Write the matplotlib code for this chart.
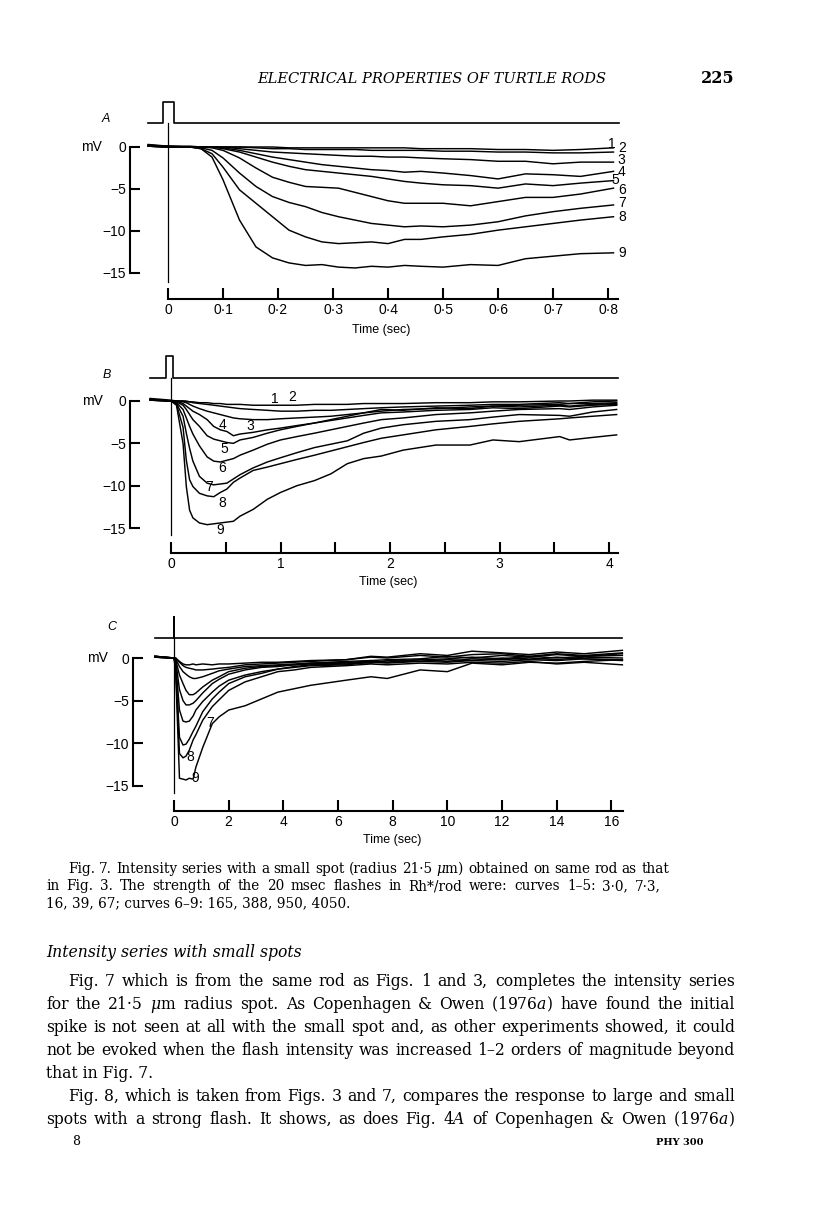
import matplotlib
matplotlib.use('Agg')
import matplotlib.pyplot as plt

# ---------------- values (time in sec, membrane potential in mV) --------
# panel A, 0-0.8 s
a_t = [-0.036, 0.0, 0.04, 0.06, 0.08, 0.10, 0.13, 0.16, 0.19, 0.22, 0.25, 0.28, 0.31,
       0.34, 0.37, 0.40, 0.43, 0.46, 0.50, 0.55, 0.60, 0.65, 0.70, 0.75, 0.81]
a_c1 = [0.3, 0.1, 0.1, 0.0, 0.0, 0.0, 0.0, 0.0, 0.0, -0.1, -0.1, -0.1, -0.1, -0.1, -0.1, -0.1, -0.1, -0.2, -0.2, -0.2, -0.3, -0.3, -0.4, -0.3, -0.1]
a_c2 = [0.2, 0.0, 0.0, 0.0, 0.0, 0.0, 0.0, -0.1, -0.2, -0.2, -0.3, -0.3, -0.3, -0.3, -0.4, -0.4, -0.4, -0.4, -0.5, -0.5, -0.6, -0.6, -0.7, -0.7, -0.6]
a_c3 = [0.1, 0.0, 0.0, 0.0, 0.0, 0.0, -0.2, -0.4, -0.6, -0.7, -0.8, -0.9, -1.0, -1.1, -1.1, -1.2, -1.2, -1.3, -1.4, -1.5, -1.7, -1.7, -2.0, -1.8, -1.8]
a_c4 = [0.1, 0.0, 0.0, 0.0, 0.0, -0.1, -0.4, -0.8, -1.2, -1.5, -1.8, -2.1, -2.3, -2.5, -2.7, -2.8, -3.0, -2.9, -3.1, -3.4, -3.8, -3.2, -3.3, -3.5, -2.9]
a_c5 = [0.2, 0.1, 0.0, 0.0, 0.0, -0.2, -0.6, -1.2, -1.8, -2.3, -2.7, -2.9, -3.1, -3.3, -3.5, -3.8, -4.1, -4.3, -4.5, -4.6, -4.9, -4.4, -4.6, -4.3, -4.0]
a_c6 = [0.1, 0.0, 0.0, 0.0, -0.1, -0.4, -1.3, -2.5, -3.6, -4.2, -4.7, -4.8, -4.9, -5.4, -5.9, -6.4, -6.7, -6.7, -6.7, -7.0, -6.5, -6.0, -6.0, -5.6, -4.9]
a_c7 = [0.2, 0.0, 0.0, -0.1, -0.4, -1.3, -3.1, -4.7, -5.9, -6.6, -7.1, -7.8, -8.3, -8.7, -9.1, -9.3, -9.5, -9.4, -9.5, -9.3, -8.9, -8.2, -7.7, -7.3, -6.9]
a_c8 = [0.1, 0.0, 0.0, -0.2, -0.8, -2.4, -5.1, -6.7, -8.3, -9.9, -10.7, -11.3, -11.5, -11.4, -11.3, -11.5, -11.0, -11.0, -10.7, -10.4, -9.9, -9.5, -9.1, -8.7, -8.3]
a_c9 = [0.2, 0.1, 0.0, -0.2, -1.2, -3.9, -8.7, -11.9, -13.2, -13.8, -14.1, -14.0, -14.3, -14.4, -14.2, -14.3, -14.1, -14.2, -14.3, -14.0, -14.1, -13.3, -13.0, -12.7, -12.6]
a_stim_t = [-0.036, -0.01, -0.01, 0.01, 0.01, 0.82]
a_stim = [0, 0, 1, 1, 0, 0]
a_xticks = [0, 0.1, 0.2, 0.3, 0.4, 0.5, 0.6, 0.7, 0.8]
a_xlabels = ['0', '0·1', '0·2', '0·3', '0·4', '0·5', '0·6', '0·7', '0·8']
a_lab_t = [0.800, 0.818, 0.818, 0.818, 0.807, 0.818, 0.818, 0.818, 0.818]
a_lab_v = [0.36, -0.12, -1.55, -2.98, -3.93, -5.12, -6.67, -8.33, -12.6]

# panel B, 0-4 s
b_t = [-0.19, 0.0, 0.05, 0.11, 0.14, 0.17, 0.20, 0.26, 0.33, 0.39, 0.45, 0.51, 0.57, 0.63, 0.75, 0.88,
       1.00, 1.15, 1.31, 1.46, 1.61, 1.76, 1.92, 2.12, 2.42, 2.73, 2.94, 3.18, 3.55, 3.64, 3.85, 4.07]
b_c1 = [0.3, 0.1, 0.0, 0.0, 0.0, -0.1, -0.1, -0.2, -0.2, -0.3, -0.3, -0.4, -0.4, -0.4, -0.5, -0.5, -0.5, -0.5, -0.4, -0.4, -0.4, -0.3, -0.3, -0.3, -0.2, -0.2, -0.1, -0.1, 0.0, 0.0, 0.1, 0.1]
b_c2 = [0.2, 0.0, 0.0, 0.0, -0.1, -0.1, -0.2, -0.3, -0.4, -0.5, -0.6, -0.7, -0.8, -0.9, -1.0, -1.1, -1.2, -1.2, -1.1, -1.1, -1.0, -0.9, -0.8, -0.7, -0.6, -0.5, -0.4, -0.4, -0.2, -0.3, -0.1, 0.0]
b_c3 = [0.1, 0.0, 0.0, -0.1, -0.2, -0.4, -0.6, -0.9, -1.2, -1.4, -1.6, -1.8, -2.0, -2.1, -2.2, -2.2, -2.1, -2.0, -1.9, -1.8, -1.6, -1.4, -1.2, -1.0, -0.9, -0.7, -0.6, -0.5, -0.4, -0.3, -0.3, -0.2]
b_c4 = [0.1, 0.0, 0.0, -0.3, -0.6, -0.9, -1.2, -1.6, -2.2, -3.0, -3.4, -3.6, -4.1, -3.9, -3.7, -3.4, -3.2, -2.9, -2.6, -2.2, -1.8, -1.4, -1.0, -1.1, -0.8, -0.9, -0.6, -0.7, -0.5, -0.6, -0.4, -0.3]
b_c5 = [0.2, 0.0, -0.1, -0.5, -1.0, -1.6, -2.2, -3.0, -4.1, -4.5, -4.7, -4.9, -5.0, -4.6, -4.3, -3.8, -3.4, -3.0, -2.6, -2.3, -2.0, -1.7, -1.4, -1.3, -1.1, -1.0, -0.8, -0.9, -0.6, -0.7, -0.5, -0.4]
b_c6 = [0.1, 0.0, -0.2, -1.0, -2.0, -3.0, -3.9, -5.3, -6.6, -7.1, -7.2, -7.0, -6.8, -6.4, -5.8, -5.1, -4.6, -4.2, -3.8, -3.4, -3.0, -2.6, -2.2, -2.0, -1.6, -1.4, -1.2, -1.0, -0.9, -1.0, -0.7, -0.5]
b_c7 = [0.2, 0.0, -0.3, -1.8, -3.8, -5.6, -7.1, -8.9, -9.7, -9.9, -9.8, -9.7, -9.2, -8.7, -7.9, -7.2, -6.7, -6.1, -5.5, -5.1, -4.7, -3.8, -3.2, -2.8, -2.4, -2.2, -1.9, -1.6, -1.7, -1.8, -1.3, -1.0]
b_c8 = [0.1, 0.0, -0.4, -3.1, -7.0, -9.3, -10.1, -10.9, -11.2, -11.3, -10.8, -10.4, -9.6, -9.1, -8.2, -7.8, -7.4, -6.9, -6.4, -5.9, -5.4, -4.9, -4.4, -4.0, -3.4, -3.0, -2.7, -2.4, -2.1, -2.0, -1.8, -1.6]
b_c9 = [0.2, 0.0, -0.5, -5.0, -10.1, -12.9, -13.8, -14.4, -14.6, -14.5, -14.4, -14.3, -14.2, -13.6, -12.8, -11.6, -10.8, -10.0, -9.4, -8.6, -7.4, -6.8, -6.5, -5.8, -5.2, -5.2, -4.6, -4.8, -4.2, -4.6, -4.3, -4.0]
b_stim_t = [-0.19, -0.045, -0.045, 0.02, 0.02, 4.08]
b_stim = [0, 0, 1, 1, 0, 0]
b_xticks = [0, 0.5, 1, 1.5, 2, 2.5, 3, 3.5, 4]
b_xlabels = ['0', '', '1', '', '2', '', '3', '', '4']
b_lab_t = [0.95, 1.11, 0.72, 0.47, 0.49, 0.47, 0.35, 0.47, 0.45]
b_lab_v = [0.24, 0.47, -2.95, -2.83, -5.67, -7.9, -10.15, -12.0, -15.2]

# panel C, 0-16 s
c_t = [-0.7, 0.0, 0.06, 0.2, 0.33, 0.44, 0.56, 0.7, 0.8, 1.05, 1.4, 1.65, 2.0, 2.6, 3.2,
       3.8, 4.4, 5.0, 6.3, 7.2, 7.8, 9.0, 10.0, 10.9, 12.0, 13.0, 14.0, 15.0, 16.4]
c_c1 = [0.1, 0.0, 0.0, -0.4, -0.7, -0.8, -0.8, -0.7, -0.8, -0.7, -0.8, -0.7, -0.7, -0.6, -0.5, -0.5, -0.4, -0.3, -0.2, 0.2, 0.1, 0.5, 0.3, 0.8, 0.6, 0.4, 0.7, 0.5, 0.9]
c_c2 = [0.2, 0.0, 0.0, -0.5, -0.9, -1.1, -1.2, -1.3, -1.4, -1.4, -1.3, -1.2, -1.1, -0.8, -0.7, -0.6, -0.5, -0.4, -0.2, 0.1, 0.0, 0.3, 0.1, 0.4, 0.5, 0.2, 0.5, 0.3, 0.6]
c_c3 = [0.1, 0.0, -0.1, -1.0, -1.6, -1.9, -2.2, -2.4, -2.4, -2.2, -1.8, -1.5, -1.3, -1.0, -0.9, -0.8, -0.7, -0.6, -0.4, -0.3, -0.2, -0.1, 0.2, 0.0, 0.3, 0.1, 0.4, 0.2, 0.5]
c_c4 = [0.2, 0.0, -0.2, -2.0, -3.0, -3.8, -4.3, -4.3, -4.1, -3.4, -2.6, -2.2, -1.6, -1.2, -1.0, -0.9, -0.8, -0.6, -0.5, -0.6, -0.3, -0.4, -0.2, -0.3, 0.0, -0.2, 0.1, -0.1, -0.2]
c_c5 = [0.1, 0.0, -0.3, -3.7, -5.0, -5.5, -5.5, -5.3, -5.0, -4.1, -3.0, -2.5, -1.9, -1.4, -1.1, -1.0, -0.8, -0.7, -0.6, -0.3, -0.5, -0.2, -0.1, 0.1, -0.1, 0.2, 0.0, 0.2, 0.3]
c_c6 = [0.2, 0.0, -0.5, -6.1, -7.4, -7.5, -7.4, -6.8, -6.1, -5.1, -4.0, -3.3, -2.6, -2.0, -1.6, -1.3, -1.0, -0.8, -0.7, -0.4, -0.5, -0.2, -0.4, -0.1, -0.2, 0.0, -0.2, 0.1, 0.0]
c_c7 = [0.1, 0.0, -0.8, -9.3, -10.2, -10.1, -9.5, -8.6, -8.0, -6.3, -4.8, -4.0, -3.0, -2.2, -1.8, -1.3, -1.1, -0.9, -0.8, -0.5, -0.6, -0.4, -0.5, -0.3, -0.4, -0.2, -0.3, -0.1, -0.3]
c_c8 = [0.2, 0.0, -1.0, -11.2, -11.7, -11.5, -10.8, -9.6, -9.0, -7.3, -5.7, -4.9, -3.8, -2.8, -2.2, -1.6, -1.4, -1.1, -0.9, -0.7, -0.8, -0.6, -0.7, -0.5, -0.6, -0.4, -0.7, -0.5, -0.8]
c_c9 = [0.1, 0.0, -1.5, -14.1, -14.2, -14.3, -14.1, -14.2, -12.8, -10.5, -7.7, -6.9, -6.1, -5.6, -4.8, -4.0, -3.6, -3.2, -2.6, -2.2, -2.4, -1.4, -1.6, -0.6, -0.8, -0.5, -0.6, -0.4, -0.2]
c_stim_t = [-0.7, 0.0, 0.0, 0.0, 16.4]
c_stim = [0, 0, 1, 0, 0]
c_xticks = [0, 2, 4, 6, 8, 10, 12, 14, 16]
c_xlabels = ['0', '2', '4', '6', '8', '10', '12', '14', '16']
c_lab_n = [7, 8, 9]
c_lab_t = [1.32, 0.59, 0.77]
c_lab_v = [-7.62, -11.6, -14.07]

mv_ticks = [0, -5, -10, -15]
mv_labels = ['0', '−5', '−10', '−15']

plt.rcParams['font.family'] = ['Liberation Sans', 'DejaVu Sans']
plt.rcParams['mathtext.fontset'] = 'custom'
plt.rcParams['mathtext.rm'] = 'DejaVu Serif'
plt.rcParams['mathtext.it'] = 'DejaVu Serif:italic'
SERIF = ['DejaVu Serif']

W, H = 816, 1229
fig = plt.figure(figsize=(W / 100, H / 100), dpi=100)
page = fig.add_axes([0, 0, 1, 1])
page.set_xlim(0, W)
page.set_ylim(H, 0)
page.axis('off')


def make_panel(box, t0, sx, v0, sy, spine_x, spine_y, t_end, xticks, xlabels):
    # box in page pixels; t0/v0 = pixel of t=0 / 0 mV, sx/sy = pixels per sec / per mV
    l, t, r, b = box
    ax = fig.add_axes([l / W, 1 - b / H, (r - l) / W, (b - t) / H])
    ax.set_xlim((l - t0) / sx, (r - t0) / sx)
    ax.set_ylim(-(b - v0) / sy, -(t - v0) / sy)
    ax.patch.set_visible(False)
    ax.spines[['top', 'right']].set_visible(False)
    ax.spines['left'].set_position(('data', (spine_x - t0) / sx))
    ax.spines['left'].set_bounds(-15, 0)
    ax.spines['bottom'].set_position(('data', -(spine_y - v0) / sy))
    ax.spines['bottom'].set_bounds(0, t_end)
    ax.spines[['left', 'bottom']].set_linewidth(1.5)
    ax.set_yticks(mv_ticks, mv_labels)
    ax.set_xticks(xticks, xlabels)
    ax.tick_params(axis='y', direction='in', length=7, width=1.5, pad=3, labelsize=10)
    ax.tick_params(axis='x', direction='in', length=8, width=1.5, pad=3, labelsize=10)
    return ax


def draw_traces(ax, t, curves, stim_t, stim, base, height, zero_bottom):
    for c in curves:
        ax.plot(t, c, color='black', lw=1.05, solid_joinstyle='round')
    ax.plot(stim_t, [base + height * s for s in stim], color='black', lw=1.2)
    ax.plot([0, 0], [base, zero_bottom], color='black', lw=0.9)


# ---- A ----
axA = make_panel((40, 95, 660, 345), 168, 550, 147, 8.4, 130, 299, 0.818, a_xticks, a_xlabels)
draw_traces(axA, a_t, [a_c1, a_c2, a_c3, a_c4, a_c5, a_c6, a_c7, a_c8, a_c9],
            a_stim_t, a_stim, 24 / 8.4, 21 / 8.4, -16.1)
for i, (tt, vv) in enumerate(zip(a_lab_t, a_lab_v)):
    axA.text(tt, vv, str(i + 1), fontsize=10, ha='left', va='center')

# ---- B ----
axB = make_panel((40, 345, 660, 600), 171, 109.5, 401, 8.47, 130, 553, 4.08, b_xticks, b_xlabels)
draw_traces(axB, b_t, [b_c1, b_c2, b_c3, b_c4, b_c5, b_c6, b_c7, b_c8, b_c9],
            b_stim_t, b_stim, 23 / 8.47, 22 / 8.47, -15.8)
for i, (tt, vv) in enumerate(zip(b_lab_t, b_lab_v)):
    axB.text(tt, vv, str(i + 1), fontsize=10, ha='center', va='center')

# ---- C ----
axC = make_panel((40, 600, 660, 850), 174, 27.34, 658, 8.53, 133, 811, 16.42, c_xticks, c_xlabels)
draw_traces(axC, c_t, [c_c1, c_c2, c_c3, c_c4, c_c5, c_c6, c_c7, c_c8, c_c9],
            c_stim_t, c_stim, 20 / 8.53, 21 / 8.53, -15.8)
for n, tt, vv in zip(c_lab_n, c_lab_t, c_lab_v):
    axC.text(tt, vv, str(n), fontsize=10, ha='center', va='center')

# panel furniture
for lab, x, y in [('A', 106, 119), ('B', 107, 375), ('C', 112, 627)]:
    page.text(x, y, lab, fontsize=9, style='italic', ha='center', va='center')
for x, y in [(91, 147), (92, 401), (97, 658)]:
    page.text(x, y, 'mV', fontsize=10, ha='center', va='center')
for x, y in [(381, 330), (388, 582), (392, 840)]:
    page.text(x, y, 'Time (sec)', fontsize=9, ha='center', va='center')

# ---- page text ----
fig.canvas.draw()
rend = fig.canvas.get_renderer()


def put(s, x, y, size, style='normal', weight='normal', ha='left'):
    return page.text(x, y, s, fontsize=size, family=SERIF, style=style, weight=weight,
                     ha=ha, va='baseline')


def width(s, size):
    o = put(s, 0, -100, size)
    w = o.get_window_extent(rend).width
    o.remove()
    return w


def natural(s, size):
    # sum of word widths plus ordinary word spaces
    words = s.split(' ')
    space = width('n n', size) - width('nn', size)
    return sum(width(w, size) for w in words) + space * (len(words) - 1)


def justify(s, x0, x1, y, size, style='normal'):
    words = s.split(' ')
    objs = [put(w, x0, y, size, style) for w in words]
    widths = [o.get_window_extent(rend).width for o in objs]
    gap = (x1 - x0 - sum(widths)) / (len(words) - 1)
    x = x0
    for o, w in zip(objs, widths):
        o.set_x(x)
        x += w + gap


def fit(s, x0, x1, y, size, style='normal'):
    o = put(s, x0, y, size, style)
    w = o.get_window_extent(rend).width
    o.set_fontsize(size * (x1 - x0) / w)


cap_lines = [
    ('Fig. 7. Intensity series with a small spot (radius 21·5 $\\mu$m) obtained on same rod as that', 68, 669, 873),
    ('in Fig. 3. The strength of the 20 msec flashes in Rh*/rod were: curves 1–5: 3·0, 7·3,', 46, 661, 890),
]
body_lines = [
    ('Fig. 7 which is from the same rod as Figs. 1 and 3, completes the intensity series', 68, 735, 986),
    ('for the 21·5 $\\mu$m radius spot. As Copenhagen & Owen (1976$a$) have found the initial', 46, 735, 1009),
    ('spike is not seen at all with the small spot and, as other experiments showed, it could', 46, 735, 1032),
    ('not be evoked when the flash intensity was increased 1–2 orders of magnitude beyond', 46, 735, 1055),
    ('Fig. 8, which is taken from Figs. 3 and 7, compares the response to large and small', 68, 735, 1101),
    ('spots with a strong flash. It shows, as does Fig. 4$A$ of Copenhagen & Owen (1976$a$)', 46, 735, 1124),
]
# font size so that the tightest justified line still has a normal word space
cap_size = 10 * min((x1 - x0) / natural(s, 10) for s, x0, x1, y in cap_lines)
body_size = 10 * min((x1 - x0) / natural(s, 10) for s, x0, x1, y in body_lines)

fit('ELECTRICAL PROPERTIES OF TURTLE RODS', 257, 605, 83, 11, style='italic')
put('225', 735, 83, 11.5, weight='bold', ha='right')

for s, x0, x1, y in cap_lines:
    justify(s, x0, x1, y, cap_size)
put('16, 39, 67; curves 6–9: 165, 388, 950, 4050.', 46, 907, cap_size)

put('Intensity series with small spots', 46, 957, body_size, style='italic')
for s, x0, x1, y in body_lines:
    justify(s, x0, x1, y, body_size)
put('that in Fig. 7.', 46, 1078, body_size)
put('8', 72, 1145, 9)
put('PHY 300', 704, 1145, 7, weight='bold', ha='right')

fig.savefig('out.png', dpi=100)
